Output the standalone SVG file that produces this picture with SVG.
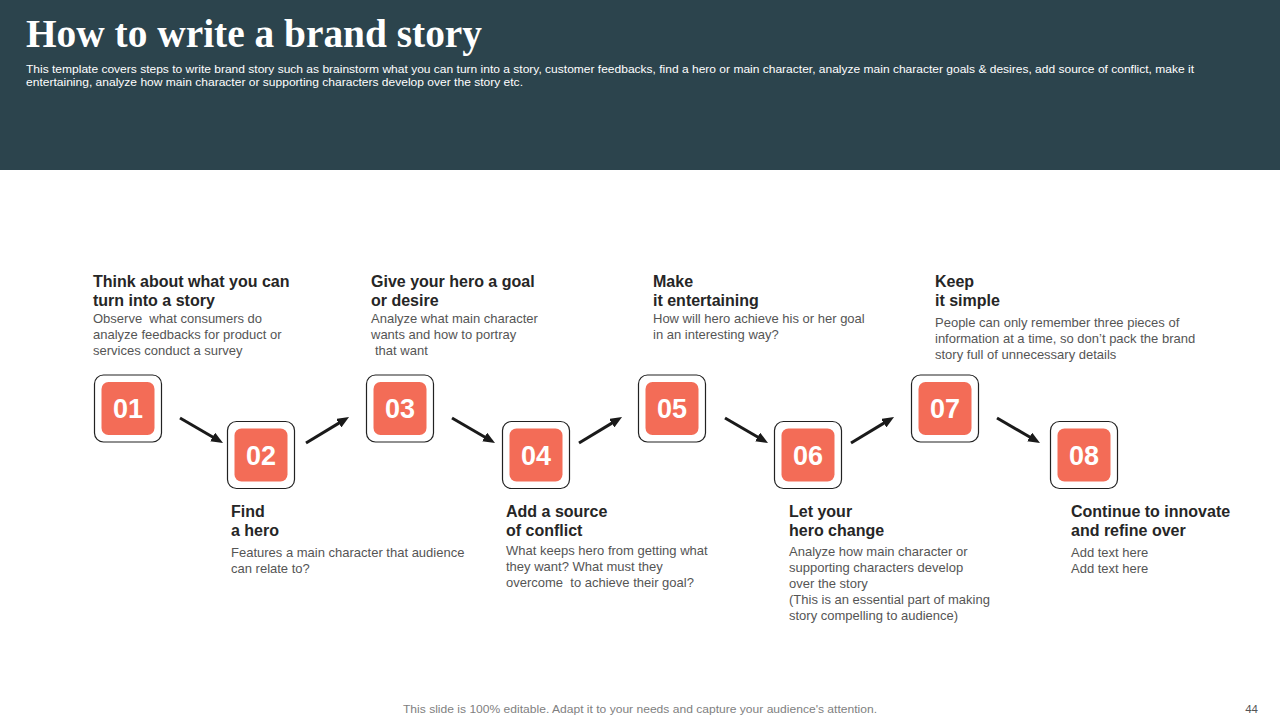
<svg xmlns="http://www.w3.org/2000/svg" width="1280" height="720" viewBox="0 0 1280 720">
<style>
.h{font-family:"Liberation Sans",Arial,sans-serif;font-weight:bold;font-size:16px;fill:#262626}
.b{font-family:"Liberation Sans",Arial,sans-serif;font-size:13px;fill:#555555}
.num{font-family:"Liberation Sans",Arial,sans-serif;font-weight:bold;font-size:27px;fill:#ffffff;text-anchor:middle}
.outer{fill:#ffffff;stroke:#222222;stroke-width:1.2}
.inner{fill:#F36C57}
.arr{stroke:#1a1a1a;stroke-width:3;fill:none;marker-end:url(#ah)}
</style>
<defs>
<marker id="ah" markerWidth="12" markerHeight="10" refX="4" refY="5" orient="auto" markerUnits="userSpaceOnUse">
<path d="M0,0 L12,5 L0,10 z" fill="#1a1a1a"/>
</marker>
</defs>
<rect x="0" y="0" width="1280" height="720" fill="#ffffff"/>
<g id="header">
<rect x="0" y="0" width="1280" height="170" fill="#2C444D"/>
<text x="26" y="47" font-family="'Liberation Serif','Times New Roman',serif" font-weight="bold" font-size="39" fill="#ffffff" textLength="456" lengthAdjust="spacingAndGlyphs">How to write a brand story</text>
<text x="26" y="73" font-family="'Liberation Sans',Arial,sans-serif" font-size="11" fill="#ffffff" textLength="1168" lengthAdjust="spacingAndGlyphs">This template covers steps to write  brand story such as brainstorm what you can turn into a story, customer feedbacks, find a hero or main character, analyze  main character goals &amp; desires, add source of conflict, make it</text>
<text x="26" y="86" font-family="'Liberation Sans',Arial,sans-serif" font-size="11" fill="#ffffff" textLength="497" lengthAdjust="spacingAndGlyphs">entertaining,  analyze how main character or supporting characters develop over the story etc.</text>
</g>
<g id="connectors">
<line class="arr" x1="180" y1="418" x2="216.1" y2="439"/>
<line class="arr" x1="306" y1="443" x2="342.2" y2="421.1"/>
<line class="arr" x1="452" y1="418" x2="488.1" y2="439"/>
<line class="arr" x1="579" y1="443" x2="615.2" y2="421.1"/>
<line class="arr" x1="725" y1="418" x2="761.1" y2="439"/>
<line class="arr" x1="851" y1="443" x2="887.2" y2="421.1"/>
<line class="arr" x1="997" y1="418" x2="1033.1" y2="439"/>
</g>
<g id="n01">
<rect class="outer" x="94.5" y="375" width="67" height="67" rx="9"/>
<rect class="inner" x="101.5" y="382" width="53" height="53" rx="7"/>
<text class="num" x="128" y="418">01</text>
<text class="h" x="93" y="287">Think about what you can</text>
<text class="h" x="93" y="306">turn into a story</text>
<text class="b" x="93" y="323" xml:space="preserve">Observe  what consumers do</text>
<text class="b" x="93" y="339">analyze feedbacks for product or</text>
<text class="b" x="93" y="355">services conduct a survey</text>
</g>
<g id="n02">
<rect class="outer" x="227.5" y="421.5" width="67" height="67" rx="9"/>
<rect class="inner" x="234.5" y="428.5" width="53" height="53" rx="7"/>
<text class="num" x="261" y="464.5">02</text>
<text class="h" x="231" y="517">Find</text>
<text class="h" x="231" y="536">a hero</text>
<text class="b" x="231" y="557">Features a main character that audience</text>
<text class="b" x="231" y="573">can relate to?</text>
</g>
<g id="n03">
<rect class="outer" x="366.5" y="375" width="67" height="67" rx="9"/>
<rect class="inner" x="373.5" y="382" width="53" height="53" rx="7"/>
<text class="num" x="400" y="418">03</text>
<text class="h" x="371" y="287">Give your hero a goal</text>
<text class="h" x="371" y="306">or desire</text>
<text class="b" x="371" y="323">Analyze what main character</text>
<text class="b" x="371" y="339">wants and how to portray</text>
<text class="b" x="375" y="355">that want</text>
</g>
<g id="n04">
<rect class="outer" x="502.5" y="421.5" width="67" height="67" rx="9"/>
<rect class="inner" x="509.5" y="428.5" width="53" height="53" rx="7"/>
<text class="num" x="536" y="464.5">04</text>
<text class="h" x="506" y="517">Add a source</text>
<text class="h" x="506" y="536">of conflict</text>
<text class="b" x="506" y="555">What keeps hero from getting what</text>
<text class="b" x="506" y="571">they want? What must they</text>
<text class="b" x="506" y="587" xml:space="preserve">overcome  to achieve their goal?</text>
</g>
<g id="n05">
<rect class="outer" x="638.5" y="375" width="67" height="67" rx="9"/>
<rect class="inner" x="645.5" y="382" width="53" height="53" rx="7"/>
<text class="num" x="672" y="418">05</text>
<text class="h" x="653" y="287">Make</text>
<text class="h" x="653" y="306">it entertaining</text>
<text class="b" x="653" y="323">How will hero achieve his or her goal</text>
<text class="b" x="653" y="339">in an interesting way?</text>
</g>
<g id="n06">
<rect class="outer" x="774.5" y="421.5" width="67" height="67" rx="9"/>
<rect class="inner" x="781.5" y="428.5" width="53" height="53" rx="7"/>
<text class="num" x="808" y="464.5">06</text>
<text class="h" x="789" y="517">Let your</text>
<text class="h" x="789" y="536">hero change</text>
<text class="b" x="789" y="556">Analyze how main character or</text>
<text class="b" x="789" y="572">supporting characters develop</text>
<text class="b" x="789" y="588">over the story</text>
<text class="b" x="789" y="604">(This is an essential part of making</text>
<text class="b" x="789" y="620">story compelling to audience)</text>
</g>
<g id="n07">
<rect class="outer" x="911.5" y="375" width="67" height="67" rx="9"/>
<rect class="inner" x="918.5" y="382" width="53" height="53" rx="7"/>
<text class="num" x="945" y="418">07</text>
<text class="h" x="935" y="287">Keep</text>
<text class="h" x="935" y="306">it simple</text>
<text class="b" x="935" y="327">People can only remember three pieces of</text>
<text class="b" x="935" y="343">information at a time, so don’t pack the brand</text>
<text class="b" x="935" y="359">story full of unnecessary details</text>
</g>
<g id="n08">
<rect class="outer" x="1050.5" y="421.5" width="67" height="67" rx="9"/>
<rect class="inner" x="1057.5" y="428.5" width="53" height="53" rx="7"/>
<text class="num" x="1084" y="464.5">08</text>
<text class="h" x="1071" y="517">Continue to innovate</text>
<text class="h" x="1071" y="536">and refine over</text>
<text class="b" x="1071" y="557">Add text here</text>
<text class="b" x="1071" y="573">Add text here</text>
</g>
<g id="footer">
<text x="640" y="713" text-anchor="middle" font-family="'Liberation Sans',Arial,sans-serif" font-size="11.5" fill="#7f7f7f" textLength="474" lengthAdjust="spacingAndGlyphs">This slide is 100% editable. Adapt it to your needs and capture your audience's attention.</text>
<text x="1258" y="713" text-anchor="end" font-family="'Liberation Sans',Arial,sans-serif" font-size="11.5" fill="#555555">44</text>
</g>
</svg>
